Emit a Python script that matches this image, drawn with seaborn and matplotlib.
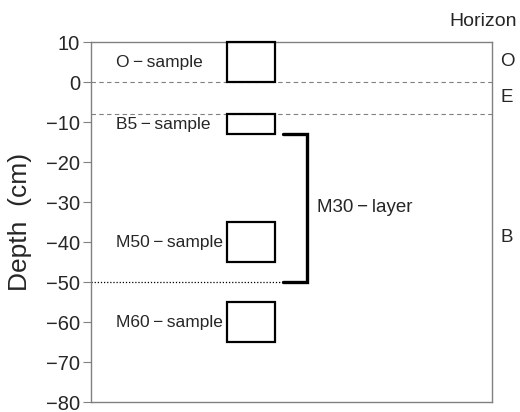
import numpy as np
import pandas as pd
import matplotlib
matplotlib.use("Agg")
import matplotlib.pyplot as plt
from matplotlib.patches import Rectangle
import seaborn as sns

# sample depth ranges (cm)
sample_names = ["O\u2009\u2212\u2009sample", "B5\u2009\u2212\u2009sample",
                "M50\u2009\u2212\u2009sample", "M60\u2009\u2212\u2009sample"]
sample_top = [10, -8, -35, -55]
sample_bottom = [0, -13, -45, -65]

# horizon boundaries and labels
horizon_bounds = [0, -8]
horizon_names = ["O", "E", "B"]
horizon_pos = [5, -4, -39]

# M30 layer bracket
layer_name = "M30\u2009\u2212\u2009layer"
layer_top = -13
layer_bottom = -50

sns.set_style("white")
plt.rcParams["font.family"] = ["Liberation Sans", "DejaVu Sans"]
plt.rcParams["axes.unicode_minus"] = True

fig = plt.figure(figsize=(5.2, 4.12), dpi=100)
ax = fig.add_axes([91 / 520, 10 / 412, 401 / 520, 360 / 412])

# samples as boxes
box_x0, box_x1 = 3.4, 4.6
for name, top, bot in zip(sample_names, sample_top, sample_bottom):
    ax.add_patch(Rectangle((box_x0, bot), box_x1 - box_x0, top - bot,
                           facecolor="none", edgecolor="black", lw=1.6,
                           clip_on=False, zorder=5))
    ax.text(0.62, (top + bot) / 2, name, ha="left", va="center", fontsize=12.5)

# horizon boundaries
for b in horizon_bounds:
    ax.axhline(b, color="gray", lw=0.8, ls=(0, (4, 3)))

# M30 layer bracket
br = pd.DataFrame({"x": [4.79, 5.39, 5.39, 4.79],
                   "y": [layer_top, layer_top, layer_bottom, layer_bottom]})
ax.plot(br["x"], br["y"], color="black", lw=2.4, solid_joinstyle="miter")
ax.plot([0, 4.79], [layer_bottom, layer_bottom], color="black", lw=0.9, ls=(0, (1, 1.5)))
ax.text(5.63, (layer_top + layer_bottom) / 2, layer_name, ha="left", va="center", fontsize=13.5)

# horizon labels outside the axes
for name, y in zip(horizon_names, horizon_pos):
    ax.text(10.2, y, name, ha="left", va="center", fontsize=13.5, clip_on=False)
ax.text(9.78, 15, "Horizon", ha="center", va="center", fontsize=14, clip_on=False)

ax.set_xlim(0, 10)
ax.set_ylim(-80, 10)
ax.set_yticks(np.arange(-80, 11, 10))
ax.set_xticks([])
ax.tick_params(axis="y", length=6, color="gray", labelsize=14.5, pad=2, left=True)
for s in ax.spines.values():
    s.set_color("gray")
    s.set_linewidth(1.0)
ax.set_ylabel("Depth  (cm)", fontsize=19, labelpad=10)

fig.savefig("out.png", dpi=100)
